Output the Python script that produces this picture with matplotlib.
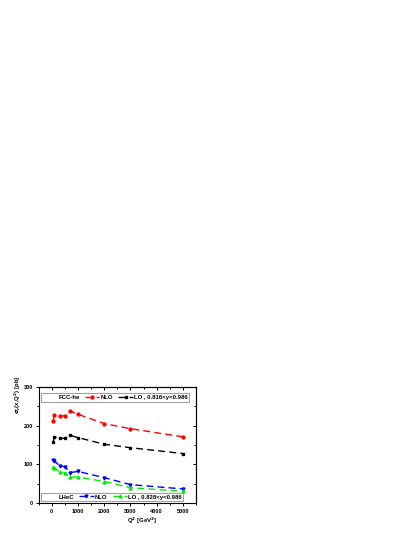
import matplotlib
matplotlib.use("Agg")
import matplotlib.pyplot as plt
from matplotlib.lines import Line2D
from matplotlib.ticker import MultipleLocator

plt.rcParams["font.family"] = ["Liberation Sans", "DejaVu Sans"]
plt.rcParams["font.weight"] = "bold"

# Q^2 values [GeV^2]
q2 = [50, 100, 300, 500, 700, 1000, 2000, 3000, 5000]

# reduced cross sections [pb]
fcc_nlo = [212, 228, 225, 225, 237, 229, 205, 192, 171]
fcc_lo = [158, 170, 168, 167, 175, 169, 152, 143, 128]
lhec_nlo = [111, 109, 96, 94, 79, 82, 66, 48, 37]
lhec_lo = [93, 91, 80, 79, 67, 68, 56, 40, 31]

fcc_label = "FCC-he"
fcc_range = "LO , 0.816<y<0.986"
lhec_label = "LHeC"
lhec_range = "LO , 0.828<y<0.986"

W, H = 415, 537
fig = plt.figure(figsize=(W / 100, H / 100), dpi=100)
ax = fig.add_axes([38.7 / W, 1 - 503.3 / H, 157.3 / W, 116.6 / H])

dash = (0, (5, 3))
kw = dict(lw=1.0, ls=dash, ms=2.1)
l_fn, = ax.plot(q2, fcc_nlo, color="#ff0000", marker="o", **kw)
l_fl, = ax.plot(q2, fcc_lo, color="black", marker="s", **kw)
l_ln, = ax.plot(q2, lhec_nlo, color="#0000ff", marker="v", **kw)
l_ll, = ax.plot(q2, lhec_lo, color="#00ee00", marker="^", **kw)

ax.set_xlim(-500, 5500)
ax.set_ylim(0, 300)
ax.xaxis.set_major_locator(MultipleLocator(1000))
ax.xaxis.set_minor_locator(MultipleLocator(500))
ax.yaxis.set_major_locator(MultipleLocator(100))
ax.yaxis.set_minor_locator(MultipleLocator(50))
ax.tick_params(which="both", direction="out", labelsize=4, width=0.7, pad=1.5)
ax.tick_params(which="major", length=2.5)
ax.tick_params(which="minor", length=1.5)
for s in ax.spines.values():
    s.set_linewidth(0.8)

# mirrored ticks pointing inwards on top and right
top = ax.secondary_xaxis("top")
top.xaxis.set_major_locator(MultipleLocator(1000))
top.xaxis.set_minor_locator(MultipleLocator(500))
top.tick_params(which="both", direction="in", labeltop=False, width=0.7)
top.tick_params(which="major", length=2.5)
top.tick_params(which="minor", length=1.5)
right = ax.secondary_yaxis("right")
right.yaxis.set_major_locator(MultipleLocator(100))
right.yaxis.set_minor_locator(MultipleLocator(50))
right.tick_params(which="both", direction="in", labelright=False, width=0.7)
right.tick_params(which="major", length=2.5)
right.tick_params(which="minor", length=1.5)

blank = Line2D([], [], ls="none")
leg_kw = dict(ncol=3, fontsize=4.3, frameon=True, fancybox=False, borderaxespad=0,
              handlelength=2.4, handletextpad=0.2, columnspacing=0.9,
              borderpad=0.25, edgecolor="#888888")
leg1 = ax.legend([blank, l_fn, l_fl], [fcc_label, "NLO", fcc_range],
                 loc="upper left", bbox_to_anchor=(0.0165, 0.943), **leg_kw)
leg1.get_frame().set_linewidth(0.8)
ax.add_artist(leg1)
leg2 = ax.legend([blank, l_ln, l_ll], [lhec_label, "NLO", lhec_range],
                 loc="lower left", bbox_to_anchor=(0.0165, 0.0197), **leg_kw)
leg2.get_frame().set_linewidth(0.8)

fig.text(18 / W, 1 - 395 / H, r"$\sigma_r$(x,Q$^2$) [pb]", rotation=90,
         ha="center", va="center", fontsize=4.3, fontweight="bold")
fig.text(142.5 / W, 1 - 520.5 / H, r"Q$^2$ [GeV$^2$]", ha="center", va="center",
         fontsize=4.3, fontweight="bold")

fig.savefig("out.png", dpi=100)
